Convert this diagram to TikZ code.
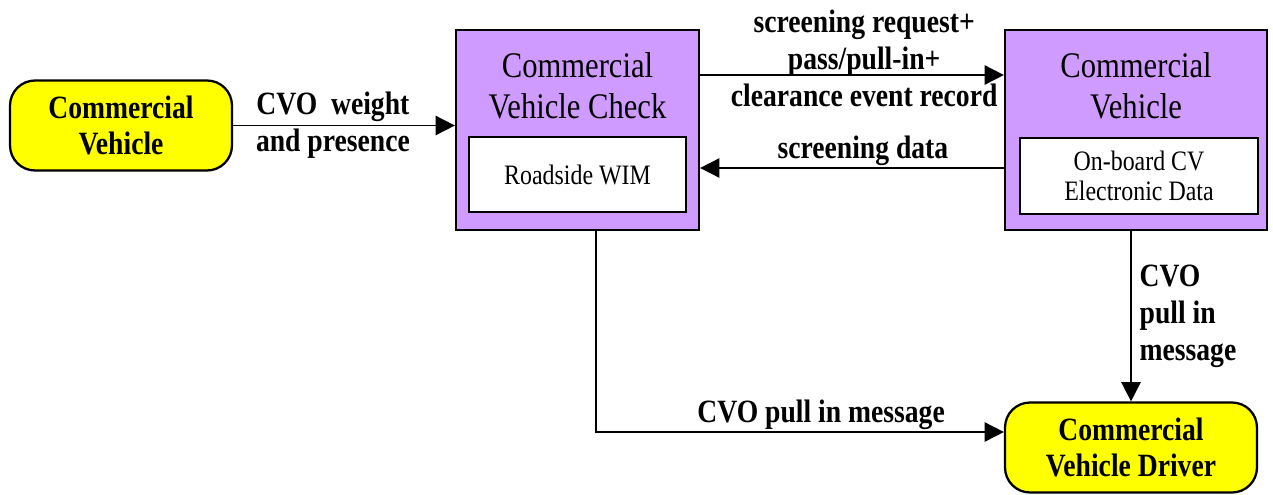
\documentclass[tikz,border=0pt]{standalone}
\usepackage{fontspec}
\setmainfont[FakeStretch=0.85]{Liberation Serif}
\usetikzlibrary{arrows.meta,positioning,calc}
\definecolor{cvyellow}{RGB}{255,255,0}
\definecolor{cvpurple}{RGB}{207,155,255}

\begin{document}
\begin{tikzpicture}[
    x=0.02cm, y=-0.02cm,
    ext/.style={draw,line width=1.3pt,fill=cvyellow,rounded corners=0.5cm,minimum height=1.8cm,align=center,font=\fontsize{18.5}{21}\selectfont\bfseries},
    proc/.style={draw,line width=1.3pt,fill=cvpurple,minimum height=4cm},
    sub/.style={draw,line width=1.3pt,fill=white,minimum height=1.5cm,align=center,font=\fontsize{16}{17.5}\selectfont},
    ttl/.style={align=center,font=\fontsize{20.5}{23.2}\selectfont},
    lbl/.style={align=center,font=\fontsize{18.5}{21}\selectfont\bfseries,inner sep=1pt},
    arr/.style={-{Triangle[length=11pt,width=11pt]},line width=1pt}
]
\useasboundingbox (0,0) rectangle (1273,494);

% outside entities
\node[ext,minimum width=4.44cm] (cv) at (121,125.5) {Commercial\\Vehicle};
\node[ext,minimum width=5.04cm] (drv) at (1131,447.5) {Commercial\\Vehicle Driver};

% roadside check
\node[proc,minimum width=4.86cm] (cvc) at (577.5,130) {};
\node[ttl] (cvct) at (577.5,86) {Commercial\\Vehicle Check};
\node[sub,minimum width=4.34cm] (wim) at (577.5,174.5) {Roadside WIM};

% vehicle
\node[proc,minimum width=5.24cm] (obv) at (1136,130) {};
\node[ttl] (obvt) at (1136,86) {Commercial\\Vehicle};
\node[sub,minimum width=4.76cm,minimum height=1.52cm] (obd) at (1139,176) {On-board CV\\Electronic Data};

\draw[arr] (cv.east) -- node[lbl,pos=0.45] {CVO\ \ weight\\and presence} (cv.east -| cvc.west);
\draw[arr] ([yshift=1.1cm]cvc.east) -- node[lbl,pos=0.54,yshift=0.34cm] {screening request+\\pass/pull-in+\\clearance event record} ([yshift=1.1cm]cvc.east -| obv.west);
\draw[arr] ([yshift=-0.76cm]obv.west) -- node[lbl,above,pos=0.464] {screening data} ([yshift=-0.76cm]obv.west -| cvc.east);

\coordinate (tap) at ([xshift=0.37cm]cvc.south);
\coordinate (drvin) at ([yshift=0.31cm]drv.west);
\draw[arr] (tap) |- node[lbl,above,pos=0.776] {CVO pull in message} (drvin);
\draw[arr] (drv.north |- obv.south) -- node[lbl,right,align=left,xshift=0.12cm] {CVO\\pull in\\message} (drv.north);
\end{tikzpicture}
\end{document}
